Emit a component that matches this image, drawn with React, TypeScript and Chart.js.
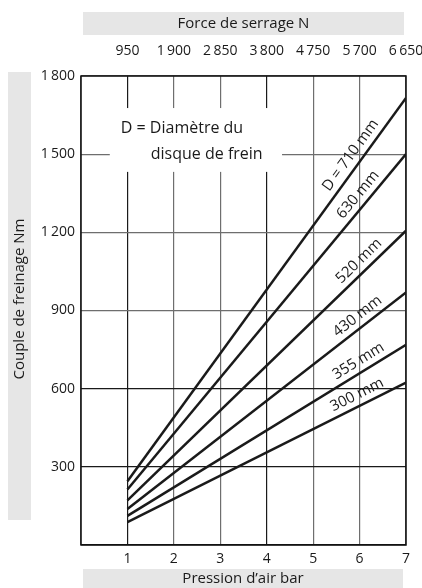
import { useEffect, useRef } from "react";
import { Chart, registerables } from "chart.js";

Chart.register(...registerables);

// Pression d'air (bar) at the two ends of each line
const pressureBar = [1, 7];
// Couple de freinage (Nm) for each disc diameter
const torque710 = [245, 1716];
const torque630 = [213, 1500];
const torque520 = [171, 1206];
const torque430 = [138, 969];
const torque355 = [112, 768];
const torque300 = [88, 623];
const diameterLabels = ["D = 710 mm", "630 mm", "520 mm", "430 mm", "355 mm", "300 mm"];
// Top axis: Force de serrage N, at pressure 1..7
const forceTicks = ["950", "1\u2009900", "2\u2009850", "3\u2009800", "4\u2009750", "5\u2009700", "6\u2009650"];
const torqueTickLabels = ["300", "600", "900", "1\u2009200", "1\u2009500", "1\u2009800"];

const FONT = "'Open Sans', sans-serif";

const series = [torque710, torque630, torque520, torque430, torque355, torque300];

const noPad = (h: number | null, w: number | null) => (s: any) => {
  if (h !== null) s.height = h;
  if (w !== null) s.width = w;
  s.paddingLeft = 0;
  s.paddingRight = 0;
  s.paddingTop = 0;
  s.paddingBottom = 0;
};

const decor = {
  id: "decor",
  beforeDraw(chart: any) {
    const { ctx } = chart;
    ctx.save();
    ctx.fillStyle = "#e6e6e6";
    ctx.fillRect(83, 12, 321, 23);
    ctx.fillRect(8, 72, 23, 448);
    ctx.fillRect(83, 569, 320, 19);
    ctx.fillStyle = "#1a1a1a";
    ctx.font = `15px ${FONT}`;
    ctx.textAlign = "center";
    ctx.textBaseline = "middle";
    ctx.fillText("Force de serrage N", 243.5, 23.5);
    ctx.fillText("Pression d\u2019air bar", 243, 579);
    ctx.translate(19.5, 299);
    ctx.rotate(-Math.PI / 2);
    ctx.fillText("Couple de freinage Nm", 0, 0);
    ctx.restore();
  },
  beforeDatasetsDraw(chart: any) {
    const { ctx, chartArea, scales } = chart;
    const xs = scales.x;
    const ys = scales.y;
    ctx.save();
    // legend box
    const x0 = xs.getPixelForValue(0.62);
    const x1 = xs.getPixelForValue(4.33);
    const y0 = ys.getPixelForValue(1677);
    const y1 = ys.getPixelForValue(1432);
    ctx.fillStyle = "#ffffff";
    ctx.fillRect(x0, y0, x1 - x0, y1 - y0);
    ctx.fillStyle = "#1a1a1a";
    ctx.font = `16px ${FONT}`;
    ctx.textAlign = "left";
    ctx.textBaseline = "middle";
    ctx.fillText("D = Diamètre du", x0 + 11, y0 + 20);
    ctx.fillText("disque de frein", x0 + 41, y0 + 46);
    // frame
    ctx.strokeStyle = "#111";
    ctx.lineWidth = 1.5;
    ctx.strokeRect(chartArea.left, chartArea.top, chartArea.right - chartArea.left, chartArea.bottom - chartArea.top);
    ctx.restore();
  },
  afterDatasetsDraw(chart: any) {
    const { ctx, scales } = chart;
    const xs = scales.x;
    const ys = scales.y;
    ctx.save();
    ctx.fillStyle = "#1a1a1a";
    ctx.font = `15px ${FONT}`;
    ctx.textAlign = "center";
    ctx.textBaseline = "middle";
    const anchorX = [6.0, 6.15, 6.15, 6.1, 6.1, 6.05];
    series.forEach((vals, i) => {
      const px0 = xs.getPixelForValue(pressureBar[0]);
      const py0 = ys.getPixelForValue(vals[0]);
      const px1 = xs.getPixelForValue(pressureBar[1]);
      const py1 = ys.getPixelForValue(vals[1]);
      const ang = Math.atan2(py1 - py0, px1 - px0);
      const t = (anchorX[i] - pressureBar[0]) / (pressureBar[1] - pressureBar[0]);
      const cx = px0 + (px1 - px0) * t;
      const cy = py0 + (py1 - py0) * t;
      const off = 11;
      const nx = Math.sin(ang) * off;
      const ny = -Math.cos(ang) * off;
      ctx.save();
      ctx.translate(cx + nx, cy + ny);
      ctx.rotate(ang);
      ctx.fillText(diameterLabels[i], 0, 0);
      ctx.restore();
    });
    ctx.restore();
  },
};

export default function App() {
  const ref = useRef<HTMLCanvasElement | null>(null);
  useEffect(() => {
    if (!ref.current) return;
    const chart = new Chart(ref.current, {
      type: "line",
      data: {
        datasets: series.map((vals, i) => ({
          label: diameterLabels[i],
          data: pressureBar.map((p, j) => ({ x: p, y: vals[j] })),
          borderColor: "#1a1a1a",
          borderWidth: 2.5,
          pointRadius: 0,
          fill: false,
        })),
      },
      options: {
        responsive: false,
        animation: false,
        layout: { padding: { left: 0, right: 16, top: 0, bottom: 0 } },
        plugins: { legend: { display: false }, tooltip: { enabled: false } },
        scales: {
          x: {
            type: "linear",
            position: "bottom",
            min: 0,
            max: 7,
            afterFit: noPad(43, null),
            ticks: {
              stepSize: 1,
              padding: 6,
              color: "#1a1a1a",
              font: { family: FONT, size: 14 },
              callback: (v: any) => (v === 0 ? "" : String(v)),
            },
            grid: {
              drawTicks: false,
              lineWidth: 1.2,
              color: (c: any) => (c.tick && (c.tick.value === 1 || c.tick.value === 4) ? "#1a1a1a" : "#6e6e6e"),
            },
            border: { display: false },
          },
          x2: {
            type: "linear",
            position: "top",
            min: 0,
            max: 7,
            afterFit: noPad(76, null),
            ticks: {
              stepSize: 1,
              padding: 17,
              color: "#1a1a1a",
              font: { family: FONT, size: 14 },
              callback: (v: any) => (v >= 1 && v <= 7 ? forceTicks[v - 1] : ""),
            },
            grid: { display: false, drawTicks: false },
            border: { display: false },
          },
          y: {
            type: "linear",
            min: 0,
            max: 1800,
            afterFit: noPad(null, 81),
            ticks: {
              stepSize: 300,
              padding: 6,
              color: "#1a1a1a",
              font: { family: FONT, size: 14 },
              callback: (v: any) => (v === 0 ? "" : torqueTickLabels[v / 300 - 1]),
            },
            grid: {
              drawTicks: false,
              lineWidth: 1.2,
              color: (c: any) => (c.tick && c.tick.value <= 600 ? "#1a1a1a" : "#6e6e6e"),
            },
            border: { display: false },
          },
        },
      },
      plugins: [decor],
    });
    return () => chart.destroy();
  }, []);
  return (
    <div style={{ position: "absolute", left: 0, top: 0, width: 422, height: 588 }}>
      <canvas ref={ref} width={422} height={588} style={{ display: "block" }} />
    </div>
  );
}
